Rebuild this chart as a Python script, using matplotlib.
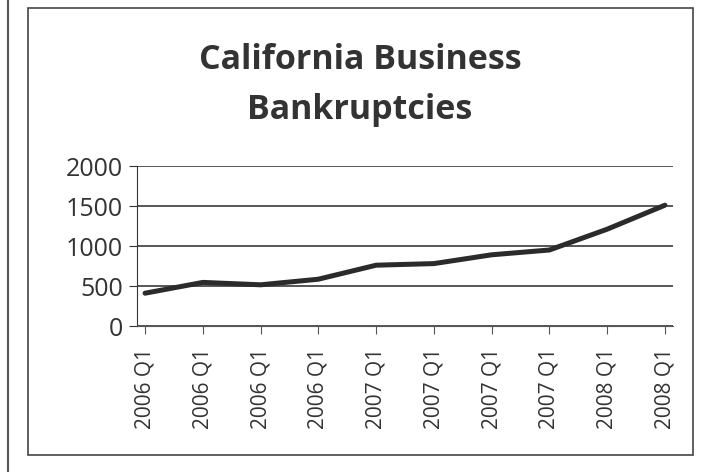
import matplotlib.pyplot as plt
from matplotlib.patches import Rectangle

# Datos
quarters = ['2006 Q1', '2006 Q1', '2006 Q1', '2006 Q1', '2007 Q1',
            '2007 Q1', '2007 Q1', '2007 Q1', '2008 Q1', '2008 Q1']
bankruptcies = [410, 545, 515, 585, 760, 780, 890, 950, 1210, 1510]
y_ticks = [0, 500, 1000, 1500, 2000]

plt.rcParams['font.family'] = ['Open Sans', 'DejaVu Sans']

fig = plt.figure(figsize=(7.2, 4.72), dpi=100)

# Marco exterior del gráfico
fig.patches.append(Rectangle((28 / 720, 1 - 455 / 472), 665 / 720, 447 / 472,
                             transform=fig.transFigure, fill=False,
                             edgecolor='#444444', linewidth=1.2))
fig.patches.append(Rectangle((8 / 720, 0), 0, 1, transform=fig.transFigure,
                             fill=False, edgecolor='#555555', linewidth=1.5))

ax = fig.add_axes([137 / 720, 1 - 326 / 472, 536 / 720, 160 / 472])

x = list(range(len(quarters)))
ax.plot(x, bankruptcies, color='#2b2b2b', linewidth=3.6, solid_capstyle='round')

ax.set_ylim(0, 2000)
ax.set_xlim(-0.14, len(quarters) - 1 + 0.14)
ax.set_yticks(y_ticks)
ax.set_yticklabels([str(v) for v in y_ticks], fontsize=18, color='#333333')
ax.set_xticks(x)
ax.set_xticklabels(quarters, rotation=90, fontsize=15, color='#333333')

ax.grid(axis='y', color='#3a3a3a', linewidth=1.2)
ax.set_axisbelow(True)
for side in ['top', 'right']:
    ax.spines[side].set_visible(False)
ax.spines['left'].set_color('#333333')
ax.spines['bottom'].set_color('#555555')
ax.tick_params(axis='y', length=6, color='#333333', pad=4)
ax.tick_params(axis='x', length=6, color='#555555', pad=10)

fig.text(360 / 720, 1 - 60 / 472, 'California Business', ha='center',
         va='center', fontsize=24.5, fontweight='bold', color='#333333')
fig.text(360 / 720, 1 - 110 / 472, 'Bankruptcies', ha='center',
         va='center', fontsize=24.5, fontweight='bold', color='#333333')

fig.savefig('out.png', dpi=100)
